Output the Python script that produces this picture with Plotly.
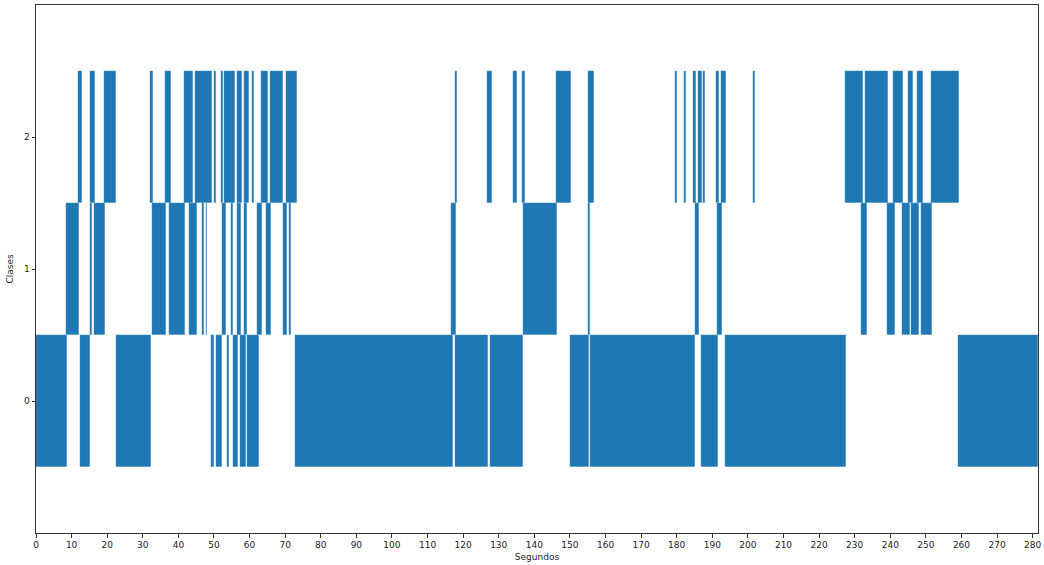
import plotly.graph_objects as go

# Segment start / end (seconds) per class
clase0_inicio = [0.0, 12.5, 22.4, 49.1, 50.45, 53.6, 55.4, 57.4, 59.4, 72.8, 117.6, 127.5, 149.9, 155.7, 186.7, 193.6, 258.9]
clase0_fin    = [8.7, 15.3, 32.4, 50.1, 52.2, 54.3, 56.7, 58.9, 62.6, 117.25, 126.9, 136.8, 155.3, 185.0, 191.6, 227.5, 281.5]

clase1_inicio = [8.5, 15.3, 16.2, 32.7, 37.5, 43.0, 46.7, 47.65, 52.2, 54.8, 56.6, 58.4, 62.2, 64.7, 69.3, 71.0,
                 116.6, 136.9, 155.2, 185.0, 191.4, 231.7, 239.0, 243.3, 245.95, 248.6]
clase1_fin    = [12.1, 15.85, 19.4, 36.4, 41.8, 45.1, 47.3, 48.1, 53.4, 55.3, 57.6, 59.4, 63.6, 66.0, 70.5, 71.7,
                 117.9, 146.5, 155.6, 186.4, 192.7, 233.4, 241.3, 245.6, 248.0, 251.8]

clase2_inicio = [11.8, 15.1, 19.1, 31.9, 36.2, 41.7, 44.8, 49.9, 51.9, 52.9, 56.4, 58.4, 60.6, 63.3, 65.7, 70.1,
                 117.8, 126.6, 134.1, 136.5, 146.1, 155.0, 179.6, 182.1, 184.6, 186.0, 187.35, 191.1, 192.4, 201.3,
                 227.3, 232.9, 240.9, 245.0, 247.4, 251.3]
clase2_fin    = [12.8, 16.6, 22.5, 32.9, 37.9, 44.2, 49.5, 50.7, 52.4, 55.9, 57.8, 59.8, 61.2, 65.1, 69.4, 73.2,
                 118.3, 128.2, 135.0, 137.3, 150.2, 156.8, 180.0, 182.5, 185.4, 187.0, 188.0, 192.0, 193.9, 201.9,
                 232.2, 239.3, 243.6, 246.5, 249.2, 259.4]

clases = [0, 1, 2]
duracion_total = 281.5
x_ticks = list(range(0, 290, 10))

inicios = [clase0_inicio, clase1_inicio, clase2_inicio]
fines = [clase0_fin, clase1_fin, clase2_fin]

bx, by, bbase = [], [], []
for c, ini, fin in zip(clases, inicios, fines):
    for s, e in zip(ini, fin):
        bx.append(e - s)
        by.append(c)
        bbase.append(s)

fig = go.Figure()
fig.add_trace(go.Bar(
    x=bx, y=by, base=bbase, orientation="h", width=1.0,
    marker=dict(color="#1f77b4", line=dict(color="rgba(255,255,255,0.35)", width=0.4)),
    showlegend=False, hoverinfo="skip",
))

axis_font = dict(family="DejaVu Sans", size=9, color="#222")
fig.update_layout(
    width=1044, height=565,
    margin=dict(l=36, r=6, t=5, b=32, autoexpand=False),
    plot_bgcolor="white", paper_bgcolor="white",
    barmode="overlay", bargap=0,
    font=axis_font,
    xaxis=dict(
        range=[0, duracion_total], tickvals=x_ticks, ticktext=[str(v) for v in x_ticks],
        showgrid=False, zeroline=False, showline=True, mirror=True, linecolor="#333", linewidth=1,
        ticks="outside", ticklen=3.5, tickcolor="#333", tickfont=axis_font, automargin=False,
        title=dict(text="Segundos", font=axis_font, standoff=4),
    ),
    yaxis=dict(
        range=[-1, 3], tickvals=clases, ticktext=[str(c) for c in clases],
        showgrid=False, zeroline=False, showline=True, mirror=True, linecolor="#333", linewidth=1,
        ticks="outside", ticklen=3.5, tickcolor="#333", tickfont=axis_font, automargin=False,
        title=dict(text="Clases", font=axis_font, standoff=8),
    ),
)

fig.write_html("out.html", config={"displayModeBar": False},
               post_script="document.body.style.margin='0';document.body.style.padding='0';")
